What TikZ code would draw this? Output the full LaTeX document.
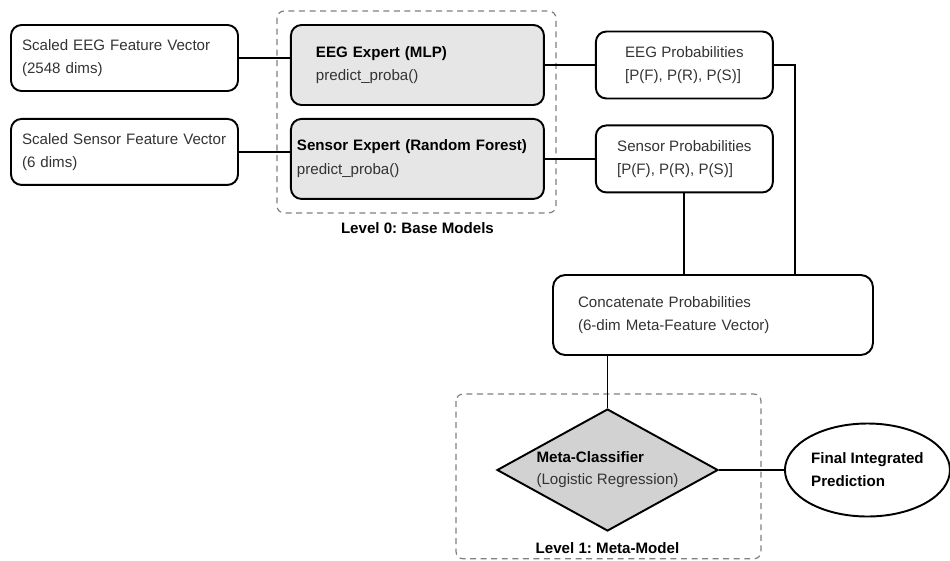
\documentclass[tikz,border=0pt]{standalone}
\usepackage{fontspec}
\setmainfont{Liberation Sans}
\frenchspacing
\usepackage{xcolor}
\definecolor{expertgray}{HTML}{E6E6E6}
\definecolor{metagray}{HTML}{D2D2D2}
\definecolor{dashgray}{HTML}{808080}
\definecolor{textgray}{HTML}{333333}
\usepackage{tikz}
\usetikzlibrary{positioning,shapes.geometric,calc}

\begin{document}
\begin{tikzpicture}[
      inbox/.style={draw, line width=1.1pt, rounded corners=6pt,
                  minimum height=1.32cm, inner xsep=0.22cm, text width=4.1cm,
                  font=\fontsize{8.6}{13}\selectfont, text=textgray, align=left},
      expert/.style={draw, line width=1.1pt, fill=expertgray, rounded corners=6pt,
                  minimum height=1.6cm, font=\fontsize{8.6}{13.5}\selectfont,
                  text=textgray, align=left},
      prob/.style={draw, line width=1.1pt, rounded corners=6pt,
                  minimum width=3.54cm, minimum height=1.34cm,
                  font=\fontsize{8.6}{13}\selectfont, text=textgray, align=left},
      concatbox/.style={draw, line width=1.1pt, rounded corners=7pt,
                  minimum height=1.6cm, inner xsep=0.5cm, text width=5.4cm,
                  font=\fontsize{8.6}{13}\selectfont, text=textgray, align=left},
      metabox/.style={diamond, draw, line width=1.1pt, fill=metagray,
                  aspect=1.7, inner sep=0pt, minimum width=4.42cm, minimum height=2.44cm,
                  font=\fontsize{8.6}{12.5}\selectfont, text=textgray, align=left},
      outbox/.style={ellipse, draw, line width=1.1pt, inner sep=0pt,
                  minimum width=3.3cm, minimum height=1.86cm,
                  font=\fontsize{8.6}{13}\selectfont\bfseries, align=left},
      group/.style={draw=dashgray, line width=0.7pt,
                  dash pattern=on 3.4pt off 2.6pt, rounded corners=4pt},
      level/.style={font=\fontsize{8.6}{10}\selectfont\bfseries, inner sep=0pt},
      link/.style={line width=1.1pt}
  ]
    \useasboundingbox (0,0) rectangle (19,-11.2);
    \node[inbox] (eegin) at (2.49,-1.16) {Scaled EEG Feature Vector\\(2548 dims)};
    \node[inbox, below=0.52cm of eegin] (sensin) {Scaled Sensor Feature Vector\\(6 dims)};
    \node[expert, inner xsep=0.5cm, text width=4.06cm,
          right=1.02cm of eegin.north east, anchor=north west] (eegexp)
          {\textcolor{black}{\bfseries EEG Expert (MLP)}\\predict\_proba()};
    \node[expert, inner xsep=0.12cm, text width=4.82cm, below=0.24cm of eegexp] (sensexp)
          {\textcolor{black}{\bfseries Sensor Expert (Random Forest)}\\predict\_proba()};
    \node[prob, right=1cm of eegexp]  (eegprob)  {EEG Probabilities\\{[P(F), P(R), P(S)]}};
    \node[prob, right=1cm of sensexp] (sensprob) {Sensor Probabilities\\{[P(F), P(R), P(S)]}};
    \node[concatbox] (concat) at (14.26,-6.3) {Concatenate Probabilities\\(6-dim Meta-Feature Vector)};
    \node[metabox] (meta) at (12.15,-9.4) {\textcolor{black}{\bfseries Meta-Classifier}\\(Logistic Regression)};
    \node[outbox, right=1.3cm of meta] (final) {Final Integrated\\Prediction};
    \node[level, below=0.44cm of sensexp] (lvlzero) {Level 0: Base Models};
    \node[level, below=0.2cm of meta] (lvlone) {Level 1: Meta-Model};
    \draw[group] ([shift={(-0.26cm,0.26cm)}]eegexp.north west) rectangle ([shift={(0.22cm,-0.26cm)}]sensexp.south east);
    \draw[group] ($(meta.west |- meta.north)+(-0.8,0.28)$) rectangle ($(meta.east |- lvlone.south)+(0.84,-0.1)$);
    \draw[link] (eegin.east) -- (eegin.east -| eegexp.west);
    \draw[link] (sensin.east) -- (sensin.east -| sensexp.west);
    \draw[link] (eegexp) -- (eegprob);
    \draw[link] (sensexp) -- (sensprob);
    \draw[link] (eegprob.east) -| ([xshift=1.64cm]concat.north);
    \draw[link] (sensprob.south) -- (sensprob.south |- concat.north);
    \draw[link] (concat.south -| meta.north) -- (meta.north);
    \draw[link] (meta) -- (final);
  \end{tikzpicture}
\end{document}
